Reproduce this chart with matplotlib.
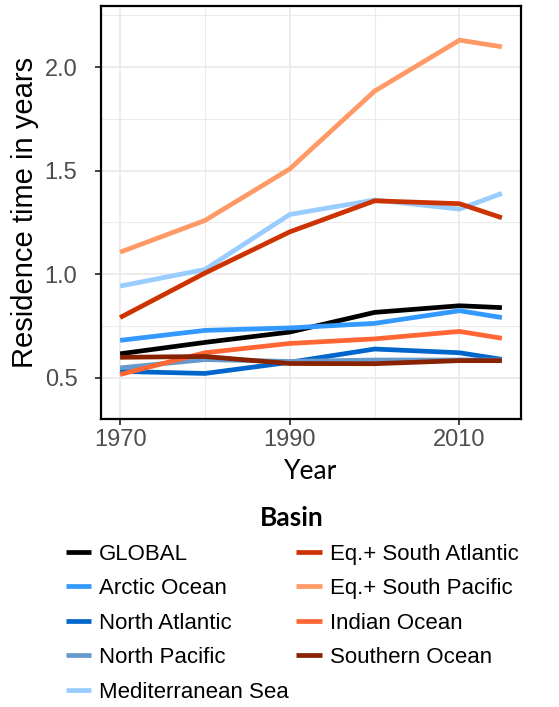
import matplotlib.pyplot as plt
from matplotlib.ticker import MultipleLocator
from matplotlib.font_manager import FontProperties

plt.rcParams['font.family'] = ['Liberation Sans', 'DejaVu Sans']

years = [1970, 1980, 1990, 2000, 2010, 2015]

basins = ['GLOBAL', 'Arctic Ocean', 'North Atlantic', 'North Pacific',
          'Mediterranean Sea', 'Eq.+ South Atlantic', 'Eq.+ South Pacific',
          'Indian Ocean', 'Southern Ocean']

global_res = [0.615, 0.670, 0.720, 0.815, 0.847, 0.838]
arctic = [0.680, 0.728, 0.740, 0.762, 0.823, 0.790]
north_atlantic = [0.530, 0.520, 0.574, 0.638, 0.620, 0.588]
north_pacific = [0.547, 0.587, 0.578, 0.585, 0.585, 0.585]
mediterranean = [0.942, 1.022, 1.288, 1.358, 1.314, 1.390]
eq_south_atlantic = [0.790, 1.005, 1.204, 1.354, 1.340, 1.272]
eq_south_pacific = [1.106, 1.259, 1.508, 1.884, 2.130, 2.098]
indian = [0.515, 0.620, 0.665, 0.687, 0.723, 0.690]
southern = [0.598, 0.602, 0.568, 0.567, 0.582, 0.582]

series = [global_res, arctic, north_atlantic, north_pacific, mediterranean,
          eq_south_atlantic, eq_south_pacific, indian, southern]
colors = ['#000000', '#3399FF', '#0066CC', '#6699CC', '#99CCFF',
          '#CC3300', '#FF9966', '#FF6633', '#882200']

fig = plt.figure(figsize=(5.59, 7.07), dpi=100)
ax = fig.add_axes([101 / 559, 1 - 419 / 707, 420 / 559, 413 / 707])

for name, vals, col in zip(basins, series, colors):
    ax.plot(years, vals, color=col, lw=3.4, label=name, solid_capstyle='butt')

ax.set_xlim(1967.75, 2017.25)
ax.set_ylim(0.30, 2.295)
ax.xaxis.set_minor_locator(MultipleLocator(10))
ax.yaxis.set_major_locator(MultipleLocator(0.5))
ax.yaxis.set_minor_locator(MultipleLocator(0.25))
ax.set_xticks([1970, 1990, 2010])

ax.grid(which='major', color='#EBEBEB', lw=1.3)
ax.grid(which='minor', color='#EBEBEB', lw=0.8)
ax.set_axisbelow(True)
for s in ax.spines.values():
    s.set_color('black')
    s.set_linewidth(1.6)

ax.tick_params(which='major', length=4, width=1.3, color='#333333',
               labelsize=17, labelcolor='#4D4D4D')
ax.tick_params(axis='x', pad=3)
ax.tick_params(axis='y', pad=13)
ax.tick_params(which='minor', length=0)
ax.yaxis.set_major_formatter(plt.FuncFormatter(lambda v, p: f'{v:.1f}'))

ax.set_xlabel('Year', fontsize=19, labelpad=6, family=['Lato', 'DejaVu Sans'])
ax.set_ylabel('Residence time in years', fontsize=21, labelpad=4)

leg = fig.legend(loc='upper center', bbox_to_anchor=(292 / 559, 1 - 506 / 707),
                 ncol=2, frameon=False, fontsize=16, borderpad=0,
                 handlelength=1.13, handletextpad=0.36, columnspacing=0.36,
                 labelspacing=0.61, borderaxespad=0,
                 title='Basin',
                 title_fontproperties=FontProperties(family='Lato', weight='bold', size=19))

fig.savefig('out.png', dpi=100)
